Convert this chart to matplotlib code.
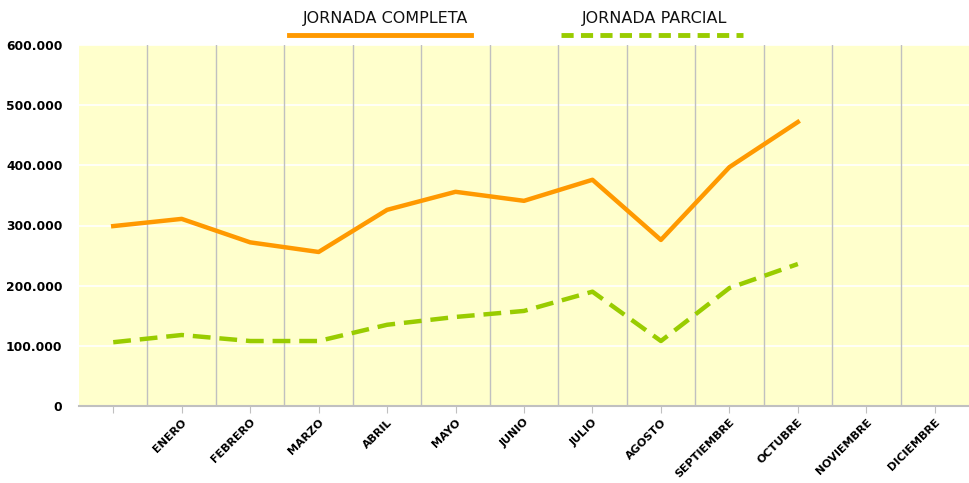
import matplotlib
matplotlib.use("Agg")
import matplotlib.pyplot as plt
from matplotlib.lines import Line2D
from matplotlib.ticker import FuncFormatter

# months shown on the x axis (first slot has no label)
meses = ["", "ENERO", "FEBRERO", "MARZO", "ABRIL", "MAYO", "JUNIO", "JULIO",
         "AGOSTO", "SEPTIEMBRE", "OCTUBRE", "NOVIEMBRE", "DICIEMBRE"]

# contracts per month
completa = [299000, 311000, 272000, 256000, 326000, 356000, 341000, 376000,
            276000, 397000, 472000]
parcial = [106000, 118000, 108000, 108000, 135000, 148000, 158000, 190000,
           108000, 196000, 236000]

naranja = "#FF9900"
verde = "#99CC00"

fig = plt.figure(figsize=(9.69, 4.83), dpi=100)
ax = fig.add_axes([79 / 969, 1 - 406 / 483, 1 - 79 / 969, (406 - 45) / 483])
ax.set_facecolor("#FFFFCC")

x = list(range(len(meses)))
ax.plot(x[:len(completa)], completa, color=naranja, lw=3.2)
ax.plot(x[:len(parcial)], parcial, color=verde, lw=3.2, linestyle=(0, (4, 2)))

ax.set_xlim(-0.5, len(meses) - 0.5)
ax.set_ylim(0, 600000)
ax.set_yticks(range(0, 600001, 100000))
ax.yaxis.set_major_formatter(FuncFormatter(lambda v, p: "0" if v == 0 else f"{int(v):,}".replace(",", ".")))

# white horizontal grid, gray vertical separators between months
for v in range(100000, 600001, 100000):
    ax.axhline(v, color="white", lw=1.2, zorder=0.5)
for i in range(len(meses) - 1):
    ax.axvline(i + 0.5, color="#C0C0C0", lw=1, zorder=0.5)

ax.set_xticks(x)
ax.set_xticklabels(meses, rotation=45, ha="right", rotation_mode="anchor",
                   fontsize=8, fontweight="bold")
for t in ax.get_yticklabels():
    t.set_fontweight("bold")
    t.set_fontsize(8.8)
ax.tick_params(axis="x", length=5, color="#C0C0C0", pad=3)
ax.tick_params(axis="y", length=0, pad=12)

for s in ["top", "right", "left"]:
    ax.spines[s].set_visible(False)
ax.spines["bottom"].set_color("#C0C0C0")
ax.spines["bottom"].set_linewidth(1.5)

# legend drawn above the plot
fig.text(386 / 969, 1 - 18 / 483, "JORNADA COMPLETA", ha="center", va="center",
         fontsize=11.5, color="#111111")
fig.text(655 / 969, 1 - 18 / 483, "JORNADA PARCIAL", ha="center", va="center",
         fontsize=11.5, color="#111111")
fig.add_artist(Line2D([289 / 969, 471 / 969], [1 - 35 / 483] * 2, color=naranja, lw=3.5,
                      transform=fig.transFigure))
fig.add_artist(Line2D([561 / 969, 743 / 969], [1 - 35 / 483] * 2, color=verde, lw=3.5,
                      linestyle=(0, (2.5, 1.5)), transform=fig.transFigure))

fig.savefig("out.png", dpi=100)
